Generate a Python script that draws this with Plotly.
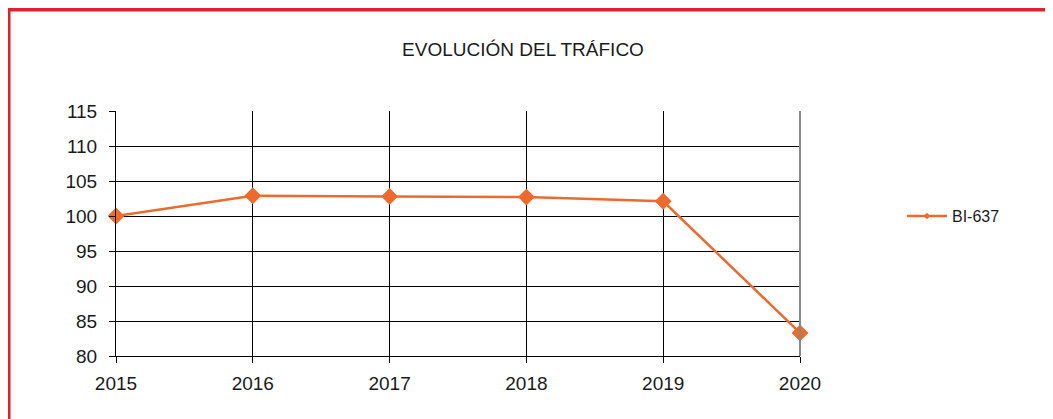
import plotly.graph_objects as go

years = [2015, 2016, 2017, 2018, 2019, 2020]
values = [100, 102.9, 102.8, 102.7, 102.1, 83.3]
series_name = "BI-637"
title_text = "EVOLUCIÓN DEL TRÁFICO"
y_ticks = [80, 85, 90, 95, 100, 105, 110, 115]

# page body has an 8px margin; coordinates below are in figure pixels
OFF = 8
W, H = 1053, 419
L, R, T, B = 116 - OFF, 800 - OFF, 111 - OFF, 356 - OFF
orange = "#ec6a2c"
red = "#d9232e"
font_family = "Liberation Sans, Arial, sans-serif"

fig = go.Figure()
fig.add_trace(go.Scatter(
    x=years, y=values, mode="lines+markers", showlegend=False,
    line=dict(color=orange, width=2.5),
    marker=dict(symbol="diamond", size=13, color=orange),
    cliponaxis=False,
))
fig.add_trace(go.Scatter(
    x=[None], y=[None], mode="lines+markers", name=series_name,
    line=dict(color=orange, width=2.5),
    marker=dict(symbol="diamond", size=5, color=orange),
))

def px2paper_x(px):
    return (px - OFF - L) / (R - L)

def px2paper_y(py):
    return (B - (py - OFF)) / (B - T)

shapes = [
    # red frame
    dict(type="line", xref="paper", yref="paper",
         x0=px2paper_x(8), x1=px2paper_x(1080), y0=px2paper_y(9.5), y1=px2paper_y(9.5),
         line=dict(color=red, width=4)),
    dict(type="line", xref="paper", yref="paper",
         x0=px2paper_x(8.5), x1=px2paper_x(8.5), y0=px2paper_y(8), y1=px2paper_y(440),
         line=dict(color=red, width=4)),
    # right border of plot
    dict(type="line", xref="paper", yref="paper", x0=1, x1=1, y0=0, y1=1,
         line=dict(color="#888888", width=2)),
]

fig.update_layout(
    width=W, height=H,
    margin=dict(l=L, r=W - R, t=T, b=H - B, pad=0),
    paper_bgcolor="white", plot_bgcolor="white",
    font=dict(family=font_family, color="#1a1a1a", size=19),
    title=dict(text=title_text, x=(523 - OFF) / W, xref="container", xanchor="center",
               y=1 - (49 - OFF) / H, yref="container", yanchor="middle",
               font=dict(family=font_family, size=19, color="#1a1a1a")),
    xaxis=dict(range=[2015, 2020], tickvals=years, ticktext=[str(y) for y in years],
               showgrid=True, gridcolor="#000000", gridwidth=1,
               showline=True, linecolor="#000000", linewidth=1,
               ticks="outside", ticklen=6, tickcolor="#000000",
               ticklabelstandoff=4,
               zeroline=False, tickfont=dict(size=19)),
    yaxis=dict(range=[80, 115], tickvals=y_ticks,
               showgrid=True, gridcolor="#000000", gridwidth=1,
               showline=True, linecolor="#000000", linewidth=1,
               ticks="outside", ticklen=6, tickcolor="#000000",
               ticklabelstandoff=8,
               zeroline=False, tickfont=dict(size=19)),
    legend=dict(x=px2paper_x(902), y=px2paper_y(216), xanchor="left", yanchor="middle",
                font=dict(size=16), bgcolor="rgba(0,0,0,0)", itemwidth=40),
    shapes=shapes,
)

fig.write_html("out.html")
